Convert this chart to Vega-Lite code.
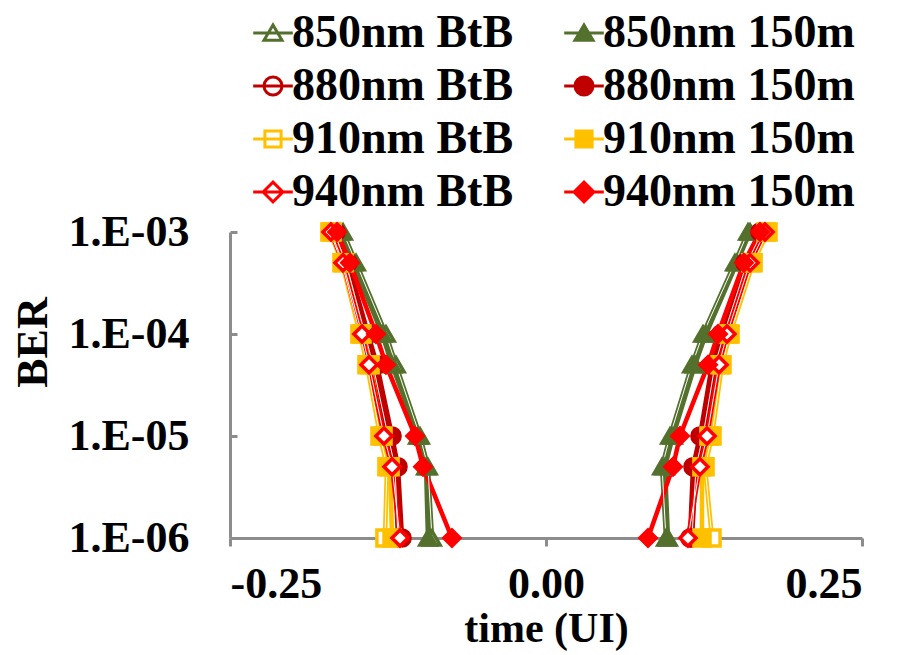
{
  "$schema": "https://vega.github.io/schema/vega-lite/v6.json",
  "width": 632,
  "height": 306,
  "autosize": "none",
  "padding": {"left": 230, "top": 232, "right": 53, "bottom": 117},
  "background": "white",
  "config": {"view": {"stroke": null}, "font": "Liberation Serif"},
  "data": {"values": [
    {"s":"850nm BtB","b":"L","e":0.001,"t":-0.1606},{"s":"850nm BtB","b":"L","e":0.0005,"t":-0.1503},{"s":"850nm BtB","b":"L","e":0.0001,"t":-0.1266},{"s":"850nm BtB","b":"L","e":0.00005,"t":-0.1187},{"s":"850nm BtB","b":"L","e":0.00001,"t":-0.0997},{"s":"850nm BtB","b":"L","e":0.000005,"t":-0.0934},{"s":"850nm BtB","b":"L","e":0.000001,"t":-0.0902},
    {"s":"850nm BtB","b":"R","e":0.001,"t":0.1598},{"s":"850nm BtB","b":"R","e":0.0005,"t":0.1495},{"s":"850nm BtB","b":"R","e":0.0001,"t":0.1242},{"s":"850nm BtB","b":"R","e":0.00005,"t":0.1155},{"s":"850nm BtB","b":"R","e":0.00001,"t":0.0981},{"s":"850nm BtB","b":"R","e":0.000005,"t":0.0918},{"s":"850nm BtB","b":"R","e":0.000001,"t":0.0949},
    {"s":"850nm 150m","b":"L","e":0.001,"t":-0.1630},{"s":"850nm 150m","b":"L","e":0.0005,"t":-0.1527},{"s":"850nm 150m","b":"L","e":0.0001,"t":-0.1297},{"s":"850nm 150m","b":"L","e":0.00005,"t":-0.1218},{"s":"850nm 150m","b":"L","e":0.00001,"t":-0.1013},{"s":"850nm 150m","b":"L","e":0.000005,"t":-0.0949},{"s":"850nm 150m","b":"L","e":0.000001,"t":-0.0934},
    {"s":"850nm 150m","b":"R","e":0.001,"t":0.1614},{"s":"850nm 150m","b":"R","e":0.0005,"t":0.1511},{"s":"850nm 150m","b":"R","e":0.0001,"t":0.1266},{"s":"850nm 150m","b":"R","e":0.00005,"t":0.1179},{"s":"850nm 150m","b":"R","e":0.00001,"t":0.1005},{"s":"850nm 150m","b":"R","e":0.000005,"t":0.0941},{"s":"850nm 150m","b":"R","e":0.000001,"t":0.0965},
    {"s":"880nm BtB","b":"L","e":0.001,"t":-0.1677},{"s":"880nm BtB","b":"L","e":0.0005,"t":-0.1582},{"s":"880nm BtB","b":"L","e":0.0001,"t":-0.1432},{"s":"880nm BtB","b":"L","e":0.00005,"t":-0.1369},{"s":"880nm BtB","b":"L","e":0.00001,"t":-0.1250},{"s":"880nm BtB","b":"L","e":0.000005,"t":-0.1195},{"s":"880nm BtB","b":"L","e":0.000001,"t":-0.1171},
    {"s":"880nm BtB","b":"R","e":0.001,"t":0.1709},{"s":"880nm BtB","b":"R","e":0.0005,"t":0.1590},{"s":"880nm BtB","b":"R","e":0.0001,"t":0.1408},{"s":"880nm BtB","b":"R","e":0.00005,"t":0.1337},{"s":"880nm BtB","b":"R","e":0.00001,"t":0.1242},{"s":"880nm BtB","b":"R","e":0.000005,"t":0.1187},{"s":"880nm BtB","b":"R","e":0.000001,"t":0.1155},
    {"s":"880nm 150m","b":"L","e":0.001,"t":-0.1661},{"s":"880nm 150m","b":"L","e":0.0005,"t":-0.1566},{"s":"880nm 150m","b":"L","e":0.0001,"t":-0.1408},{"s":"880nm 150m","b":"L","e":0.00005,"t":-0.1337},{"s":"880nm 150m","b":"L","e":0.00001,"t":-0.1218},{"s":"880nm 150m","b":"L","e":0.000005,"t":-0.1171},{"s":"880nm 150m","b":"L","e":0.000001,"t":-0.1139},
    {"s":"880nm 150m","b":"R","e":0.001,"t":0.1693},{"s":"880nm 150m","b":"R","e":0.0005,"t":0.1574},{"s":"880nm 150m","b":"R","e":0.0001,"t":0.1384},{"s":"880nm 150m","b":"R","e":0.00005,"t":0.1313},{"s":"880nm 150m","b":"R","e":0.00001,"t":0.1218},{"s":"880nm 150m","b":"R","e":0.000005,"t":0.1163},{"s":"880nm 150m","b":"R","e":0.000001,"t":0.1139},
    {"s":"910nm BtB","b":"L","e":0.001,"t":-0.1709},{"s":"910nm BtB","b":"L","e":0.0005,"t":-0.1614},{"s":"910nm BtB","b":"L","e":0.0001,"t":-0.1472},{"s":"910nm BtB","b":"L","e":0.00005,"t":-0.1416},{"s":"910nm BtB","b":"L","e":0.00001,"t":-0.1313},{"s":"910nm BtB","b":"L","e":0.000005,"t":-0.1258},{"s":"910nm BtB","b":"L","e":0.000001,"t":-0.1274},
    {"s":"910nm BtB","b":"R","e":0.001,"t":0.1756},{"s":"910nm BtB","b":"R","e":0.0005,"t":0.1638},{"s":"910nm BtB","b":"R","e":0.0001,"t":0.1456},{"s":"910nm BtB","b":"R","e":0.00005,"t":0.1392},{"s":"910nm BtB","b":"R","e":0.00001,"t":0.1313},{"s":"910nm BtB","b":"R","e":0.000005,"t":0.1258},{"s":"910nm BtB","b":"R","e":0.000001,"t":0.1313},
    {"s":"910nm 150m","b":"L","e":0.001,"t":-0.1693},{"s":"910nm 150m","b":"L","e":0.0005,"t":-0.1598},{"s":"910nm 150m","b":"L","e":0.0001,"t":-0.1456},{"s":"910nm 150m","b":"L","e":0.00005,"t":-0.1392},{"s":"910nm 150m","b":"L","e":0.00001,"t":-0.1290},{"s":"910nm 150m","b":"L","e":0.000005,"t":-0.1234},{"s":"910nm 150m","b":"L","e":0.000001,"t":-0.1218},
    {"s":"910nm 150m","b":"R","e":0.001,"t":0.1741},{"s":"910nm 150m","b":"R","e":0.0005,"t":0.1622},{"s":"910nm 150m","b":"R","e":0.0001,"t":0.1440},{"s":"910nm 150m","b":"R","e":0.00005,"t":0.1377},{"s":"910nm 150m","b":"R","e":0.00001,"t":0.1290},{"s":"910nm 150m","b":"R","e":0.000005,"t":0.1234},{"s":"910nm 150m","b":"R","e":0.000001,"t":0.1234},
    {"s":"940nm BtB","b":"L","e":0.001,"t":-0.1701},{"s":"940nm BtB","b":"L","e":0.0005,"t":-0.1606},{"s":"940nm BtB","b":"L","e":0.0001,"t":-0.1456},{"s":"940nm BtB","b":"L","e":0.00005,"t":-0.1400},{"s":"940nm BtB","b":"L","e":0.00001,"t":-0.1282},{"s":"940nm BtB","b":"L","e":0.000005,"t":-0.1218},{"s":"940nm BtB","b":"L","e":0.000001,"t":-0.1155},
    {"s":"940nm BtB","b":"R","e":0.001,"t":0.1733},{"s":"940nm BtB","b":"R","e":0.0005,"t":0.1614},{"s":"940nm BtB","b":"R","e":0.0001,"t":0.1432},{"s":"940nm BtB","b":"R","e":0.00005,"t":0.1369},{"s":"940nm BtB","b":"R","e":0.00001,"t":0.1274},{"s":"940nm BtB","b":"R","e":0.000005,"t":0.1218},{"s":"940nm BtB","b":"R","e":0.000001,"t":0.1123},
    {"s":"940nm 150m","b":"L","e":0.001,"t":-0.1653},{"s":"940nm 150m","b":"L","e":0.0005,"t":-0.1551},{"s":"940nm 150m","b":"L","e":0.0001,"t":-0.1345},{"s":"940nm 150m","b":"L","e":0.00005,"t":-0.1266},{"s":"940nm 150m","b":"L","e":0.00001,"t":-0.1036},{"s":"940nm 150m","b":"L","e":0.000005,"t":-0.0973},{"s":"940nm 150m","b":"L","e":0.000001,"t":-0.0744},
    {"s":"940nm 150m","b":"R","e":0.001,"t":0.1693},{"s":"940nm 150m","b":"R","e":0.0005,"t":0.1566},{"s":"940nm 150m","b":"R","e":0.0001,"t":0.1361},{"s":"940nm 150m","b":"R","e":0.00005,"t":0.1282},{"s":"940nm 150m","b":"R","e":0.00001,"t":0.1060},{"s":"940nm 150m","b":"R","e":0.000005,"t":0.1005},{"s":"940nm 150m","b":"R","e":0.000001,"t":0.0807}
  ]},
  "encoding": {
    "x": {"field": "t", "type": "quantitative",
      "scale": {"domain": [-0.25, 0.25], "nice": false, "zero": false},
      "axis": {"values": [-0.25, 0, 0.25], "labelExpr": "datum.value < 0 ? '-' + format(-datum.value, '.2f') : format(datum.value, '.2f')",
        "title": "time (UI)", "grid": false, "tickSize": 8, "labelPadding": 16, "titlePadding": 2,
        "labelFont": "Liberation Serif", "labelFontSize": 44, "labelFontWeight": "bold", "labelColor": "black",
        "titleFont": "Liberation Serif", "titleFontSize": 42, "titleFontWeight": "bold", "titleColor": "black",
        "domainColor": "#8c8c8c", "domainWidth": 3, "tickColor": "#8c8c8c", "tickWidth": 3}},
    "y": {"field": "e", "type": "quantitative",
      "scale": {"type": "log", "domain": [0.000001, 0.001], "nice": false},
      "axis": {"values": [0.000001, 0.00001, 0.0001, 0.001], "labelExpr": "'1.E-0' + round(-log(datum.value)/LN10)",
        "title": "BER", "grid": false, "tickSize": -7, "labelPadding": 48,
        "titleX": -184, "titleY": 110, "titleAngle": 270, "titleBaseline": "alphabetic", "titleAlign": "center",
        "labelFont": "Liberation Serif", "labelFontSize": 44, "labelFontWeight": "bold", "labelColor": "black",
        "titleFont": "Liberation Serif", "titleFontSize": 44, "titleFontWeight": "bold", "titleColor": "black",
        "domainColor": "#8c8c8c", "domainWidth": 3, "tickColor": "#8c8c8c", "tickWidth": 3}}
  },
  "layer": [
    {"mark": {"type": "line", "strokeWidth": 4.5},
     "encoding": {
       "stroke": {"field": "s", "type": "nominal", "legend": null,
         "scale": {"domain": ["850nm BtB","850nm 150m","880nm BtB","880nm 150m","910nm BtB","910nm 150m","940nm BtB","940nm 150m"],
                   "range": ["#53702C","#53702C","#C00000","#C00000","#FFC000","#FFC000","#FF0000","#FF0000"]}},
       "detail": {"field": "b"},
       "order": {"field": "e", "type": "quantitative"}}},
    {"transform": [{"filter": "indexof(datum.s, 'BtB') >= 0"}],
     "mark": {"type": "line", "strokeWidth": 1, "color": "white"},
     "encoding": {"detail": [{"field": "s"}, {"field": "b"}], "order": {"field": "e", "type": "quantitative"}}},
    {"mark": {"type": "point", "filled": true, "strokeWidth": 3.5, "opacity": 1},
     "encoding": {
       "shape": {"field": "s", "type": "nominal", "legend": null,
         "scale": {"domain": ["850nm BtB","850nm 150m","880nm BtB","880nm 150m","910nm BtB","910nm 150m","940nm BtB","940nm 150m"],
                   "range": ["triangle-up","triangle-up","circle","circle","square","square","diamond","diamond"]}},
       "fill": {"field": "s", "type": "nominal", "legend": null,
         "scale": {"domain": ["850nm BtB","850nm 150m","880nm BtB","880nm 150m","910nm BtB","910nm 150m","940nm BtB","940nm 150m"],
                   "range": ["#FFFFFF","#53702C","#FFFFFF","#C00000","#FFFFFF","#FFC000","#FFFFFF","#FF0000"]}},
       "stroke": {"field": "s", "type": "nominal", "legend": null,
         "scale": {"domain": ["850nm BtB","850nm 150m","880nm BtB","880nm 150m","910nm BtB","910nm 150m","940nm BtB","940nm 150m"],
                   "range": ["#53702C","#53702C","#C00000","#C00000","#FFC000","#FFC000","#FF0000","#FF0000"]}},
       "size": {"field": "s", "type": "nominal", "legend": null,
         "scale": {"domain": ["850nm BtB","850nm 150m","880nm BtB","880nm 150m","910nm BtB","910nm 150m","940nm BtB","940nm 150m"],
                   "range": [260, 260, 420, 420, 620, 620, 600, 600]}}}},
    {"transform": [{"filter": "datum.e > 1"}],
     "mark": {"type": "point", "filled": true, "strokeWidth": 3, "opacity": 1},
     "encoding": {
       "shape": {"field": "s", "type": "nominal",
         "scale": {"domain": ["850nm BtB","850nm 150m","880nm BtB","880nm 150m","910nm BtB","910nm 150m","940nm BtB","940nm 150m"],
                   "range": ["M-2.2,0H2.2M0,-0.9L1,0.8L-1,0.8Z","M-2.2,0H2.2M0,-0.9L1,0.8L-1,0.8Z",
                             "M-2.2,0H2.2M-1,0A1,1 0 1,0 1,0A1,1 0 1,0 -1,0Z","M-2.2,0H2.2M-1,0A1,1 0 1,0 1,0A1,1 0 1,0 -1,0Z",
                             "M-2.2,0H2.2M-0.9,-0.9H0.9V0.9H-0.9Z","M-2.2,0H2.2M-0.9,-0.9H0.9V0.9H-0.9Z",
                             "M-2.2,0H2.2M0,-1.1L1.1,0L0,1.1L-1.1,0Z","M-2.2,0H2.2M0,-1.1L1.1,0L0,1.1L-1.1,0Z"]},
         "legend": {"title": null, "orient": "none", "legendX": 20, "legendY": -222, "direction": "horizontal", "columns": 2, "columnPadding": 44, "rowPadding": 7,
           "labelFont": "Liberation Serif", "labelFontSize": 46, "labelFontWeight": "bold", "labelColor": "black", "labelLimit": 0, "labelOffset": -4,
           "symbolSize": 324, "symbolStrokeWidth": 3, "padding": 0}},
       "fill": {"field": "s", "type": "nominal",
         "scale": {"domain": ["850nm BtB","850nm 150m","880nm BtB","880nm 150m","910nm BtB","910nm 150m","940nm BtB","940nm 150m"],
                   "range": ["#FFFFFF","#53702C","#FFFFFF","#C00000","#FFFFFF","#FFC000","#FFFFFF","#FF0000"]},
         "legend": {"title": null, "orient": "none", "legendX": 20, "legendY": -222, "direction": "horizontal", "columns": 2, "columnPadding": 44, "rowPadding": 7,
           "labelFont": "Liberation Serif", "labelFontSize": 46, "labelFontWeight": "bold", "labelColor": "black", "labelLimit": 0, "labelOffset": -4,
           "symbolSize": 324, "symbolStrokeWidth": 3, "padding": 0}},
       "stroke": {"field": "s", "type": "nominal",
         "scale": {"domain": ["850nm BtB","850nm 150m","880nm BtB","880nm 150m","910nm BtB","910nm 150m","940nm BtB","940nm 150m"],
                   "range": ["#53702C","#53702C","#C00000","#C00000","#FFC000","#FFC000","#FF0000","#FF0000"]},
         "legend": {"title": null, "orient": "none", "legendX": 20, "legendY": -222, "direction": "horizontal", "columns": 2, "columnPadding": 44, "rowPadding": 7,
           "labelFont": "Liberation Serif", "labelFontSize": 46, "labelFontWeight": "bold", "labelColor": "black", "labelLimit": 0, "labelOffset": -4,
           "symbolSize": 324, "symbolStrokeWidth": 3, "padding": 0}}}}
  ],
  "resolve": {"scale": {"shape": "independent", "fill": "independent", "stroke": "independent", "size": "independent"}}
}
